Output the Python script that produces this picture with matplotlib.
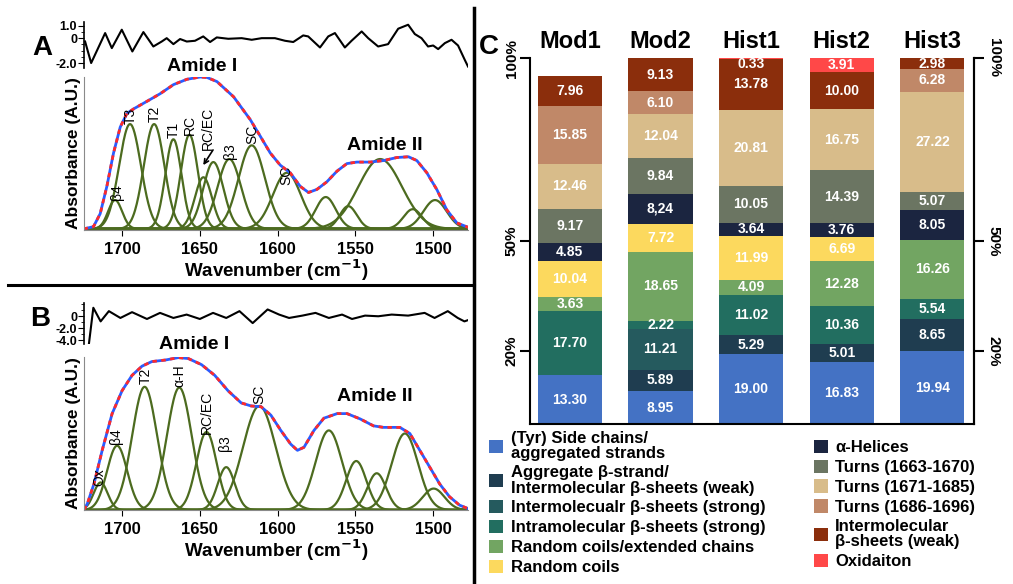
import numpy as np
import matplotlib
matplotlib.use('Agg')
import matplotlib.pyplot as plt
from matplotlib.patches import Patch
from matplotlib.lines import Line2D
from matplotlib.ticker import MultipleLocator

plt.rcParams['font.family'] = ['Liberation Sans', 'DejaVu Sans']
plt.rcParams['axes.unicode_minus'] = False

# ---------------- A: amide I/II band fit ----------------
a_env_wn = [1724.8, 1718.4, 1714.1, 1709.8, 1705.5, 1701.2, 1696.9, 1692.6, 1684.0, 1675.5,
            1666.9, 1658.3, 1649.7, 1645.4, 1639.0, 1628.3, 1617.6, 1611.1, 1604.7, 1598.3,
            1591.9, 1585.4, 1580.1, 1574.7, 1568.3, 1561.8, 1555.4, 1549.0, 1540.4, 1531.8,
            1523.3, 1515.8, 1510.4, 1504.0, 1497.6, 1491.1, 1484.7, 1477.2]
a_env = [0.0, 0.015, 0.10, 0.28, 0.50, 0.67, 0.76, 0.79, 0.84, 0.89,
         0.95, 0.985, 1.0, 0.997, 0.97, 0.87, 0.72, 0.61, 0.50, 0.42,
         0.37, 0.28, 0.24, 0.26, 0.31, 0.38, 0.43, 0.44, 0.44, 0.45,
         0.47, 0.475, 0.45, 0.37, 0.26, 0.125, 0.04, 0.01]
a_centers = [1704.5, 1694.9, 1679.4, 1667.0, 1656.7, 1647.7, 1641.3, 1631.0, 1616.6, 1594.0,
             1569.0, 1554.5, 1534.0, 1513.0, 1498.7]
a_heights = [0.19, 0.69, 0.69, 0.59, 0.62, 0.34, 0.44, 0.46, 0.55, 0.37,
             0.21, 0.15, 0.46, 0.13, 0.19]
a_sigmas = [4.5, 7.0, 6.6, 5.2, 5.5, 5.5, 6.5, 7.5, 8.5, 9.0,
            6.5, 5.5, 14.0, 6.0, 7.5]
a_res_wn = [1723.8, 1719.9, 1710.9, 1706.6, 1700.2, 1693.4, 1686.3, 1679.9, 1674.5, 1671.3,
            1667.0, 1662.7, 1658.4, 1653.1, 1647.8, 1643.4, 1639.1, 1631.7, 1623.1, 1616.6,
            1610.2, 1601.7, 1595.2, 1589.9, 1583.5, 1580.3, 1572.7, 1567.4, 1563.1, 1556.7,
            1552.4, 1545.9, 1541.7, 1535.3, 1528.9, 1522.4, 1516.0, 1511.7, 1507.4, 1503.2,
            1499.9, 1496.7, 1492.4, 1488.1, 1483.9, 1479.6, 1477.5]
a_res = [-0.27, -2.0, 0.41, -0.80, 0.68, -1.07, 0.49, -0.67, -0.27, 0.0,
         -0.48, -0.07, -0.27, -0.21, 0.14, -0.31, 0.06, -0.05, 0.0, -0.13,
         0.0, 0.0, -0.21, -0.31, 0.22, 0.14, -0.75, 0.14, 0.41, -0.75,
         -0.21, 0.54, 0.0, -0.67, -0.48, 0.76, 1.08, 0.33, 0.0, -0.67,
         -0.59, -0.88, -0.40, -0.13, -0.59, -1.74, -2.28]

# ---------------- B ----------------
b_env_wn = [1724.5, 1722.3, 1718.1, 1712.8, 1706.4, 1700.0, 1693.6, 1687.2, 1680.9, 1672.3,
            1663.8, 1657.4, 1648.9, 1640.4, 1631.9, 1623.4, 1617.0, 1610.6, 1604.3, 1597.9,
            1591.5, 1587.2, 1583.0, 1576.6, 1570.2, 1561.7, 1555.3, 1546.8, 1538.3, 1531.9,
            1521.3, 1514.9, 1508.5, 1502.1, 1495.7, 1489.4, 1483.0, 1477.7]
b_env = [0.0, 0.043, 0.17, 0.39, 0.63, 0.78, 0.88, 0.94, 0.97, 0.98,
         0.996, 0.99, 0.95, 0.88, 0.78, 0.70, 0.68, 0.675, 0.62, 0.52,
         0.43, 0.39, 0.41, 0.52, 0.60, 0.63, 0.63, 0.595, 0.55, 0.54,
         0.54, 0.50, 0.39, 0.28, 0.17, 0.087, 0.032, 0.01]
b_centers = [1713.8, 1703.2, 1685.5, 1663.2, 1645.7, 1633.0, 1611.7, 1567.0, 1549.4, 1536.2,
             1518.1, 1499.6]
b_heights = [0.18, 0.42, 0.805, 0.80, 0.51, 0.28, 0.68, 0.52, 0.32, 0.24, 0.50, 0.14]
b_sigmas = [4.5, 6.5, 8.0, 8.0, 6.5, 5.5, 10.5, 8.5, 6.5, 6.0, 8.5, 7.0]
b_res_wn = [1721.3, 1718.5, 1713.8, 1708.5, 1701.1, 1693.6, 1684.0, 1675.6, 1667.0, 1658.5,
            1650.0, 1641.5, 1633.0, 1624.5, 1616.0, 1606.4, 1599.0, 1592.6, 1584.0, 1575.6,
            1567.0, 1558.5, 1552.1, 1543.7, 1535.2, 1526.6, 1516.0, 1505.4, 1499.0, 1490.5,
            1484.1, 1479.8, 1476.6]
b_res = [-4.5, 1.41, -0.85, 0.85, -0.28, 0.68, -0.45, 0.56, -0.28, 0.28,
         -0.45, 0.56, -0.28, 0.85, -1.13, 1.13, 0.28, -0.28, 0.11, 0.56,
         -0.28, 0.28, -0.45, 0.11, 0.0, 0.28, 0.11, 0.56, -0.28, 0.85,
         -0.28, -0.85, -0.56]

# ---------------- C: secondary structure content (%) ----------------
samples = ['Mod1', 'Mod2', 'Hist1', 'Hist2', 'Hist3']
side_chains = [13.30, 8.95, 19.00, 16.83, 19.94]
aggregate = [0, 5.89, 5.29, 5.01, 8.65]
inter_strong = [0, 11.21, 0, 0, 0]
intra_strong = [17.70, 2.22, 11.02, 10.36, 5.54]
coil_extended = [3.63, 18.65, 4.09, 12.28, 16.26]
random_coils = [10.04, 7.72, 11.99, 6.69, 0]
helices = [4.85, 8.24, 3.64, 3.76, 8.05]
turns_1663 = [9.17, 9.84, 10.05, 14.39, 5.07]
turns_1671 = [12.46, 12.04, 20.81, 16.75, 27.22]
turns_1686 = [15.85, 6.10, 0, 0, 6.28]
inter_weak = [7.96, 9.13, 13.78, 10.00, 2.98]
oxidation = [0, 0, 0.33, 3.91, 0]

structures = [
    ("(Tyr) Side chains/\naggregated strands", side_chains, '#4472c4'),
    ("Aggregate β-strand/\nIntermolecular β-sheets (weak)", aggregate, '#1f3d50'),
    ("Intermolecualr β-sheets (strong)", inter_strong, '#255a5e'),
    ("Intramolecular β-sheets (strong)", intra_strong, '#226e60'),
    ("Random coils/extended chains", coil_extended, '#72a562'),
    ("Random coils", random_coils, '#fcd95e'),
    ("α-Helices", helices, '#1b2540'),
    ("Turns (1663-1670)", turns_1663, '#6b7562'),
    ("Turns (1671-1685)", turns_1671, '#d8bc8a'),
    ("Turns (1686-1696)", turns_1686, '#c08868'),
    ("Intermolecular\nβ-sheets (weak)", inter_weak, '#8b2e0c'),
    ("Oxidaiton", oxidation, '#ff4848'),
]
comma_label = ("Mod2", "α-Helices")  # written with a decimal comma

GREEN = '#4c6b1f'
W, H = 1013, 584
fig = plt.figure(figsize=(W / 100, H / 100), dpi=100)


def box(left, top, right, bottom):
    return [left / W, 1 - bottom / H, (right - left) / W, (bottom - top) / H]


def draw_spectrum(ax, env_wn, env, centers, heights, sigmas, tags, ylim):
    grid = np.linspace(1724.5, 1477.5, 700)
    for c, h, s in zip(centers, heights, sigmas):
        ax.plot(grid, h * np.exp(-0.5 * ((grid - c) / s) ** 2), color=GREEN, lw=1.6)
    ax.plot(env_wn, env, color='#2a5cff', lw=2.0)
    ax.plot(env_wn, env, color='#ff2a2a', lw=2.0, ls=(0, (1.6, 1.6)))
    for txt, x, y in tags:
        ax.text(x, y, txt, rotation=90, ha='center', va='center', fontsize=10)
    ax.set_xlim(1724.5, 1477.5)
    ax.set_ylim(*ylim)
    ax.set_xticks([1700, 1650, 1600, 1550, 1500])
    ax.set_yticks([])
    for sp in ['top', 'right']:
        ax.spines[sp].set_visible(False)
    ax.spines['left'].set_color('#8a8a8a')
    ax.spines['bottom'].set_color('#8a8a8a')
    ax.tick_params(axis='x', direction='out', length=4, labelsize=12, pad=5)
    for t in ax.get_xticklabels():
        t.set_fontweight('bold')
    ax.set_xlabel('Wavenumber (cm$^{\\mathbf{-1}}$)', fontsize=13.5, fontweight='bold', labelpad=0)
    ax.set_ylabel('Absorbance (A.U.)', fontsize=12.5, fontweight='bold', labelpad=2)


def draw_residual(ax, wn, res, ylim, major, labels):
    ax.plot(wn, res, color='black', lw=1.5)
    ax.set_xlim(1724.5, 1477.5)
    ax.set_ylim(*ylim)
    for sp in ['top', 'right', 'bottom']:
        ax.spines[sp].set_visible(False)
    ax.spines['left'].set_linewidth(1.2)
    ax.set_xticks([])
    ax.set_yticks(major)
    ax.set_yticklabels(labels, fontsize=9, fontweight='bold')
    ax.yaxis.set_minor_locator(MultipleLocator(1.0 if ylim[0] < -3 else 0.5))
    ax.tick_params(axis='y', which='major', length=4, pad=1)
    ax.tick_params(axis='y', which='minor', length=2.5)


# panel A
ax_ar = fig.add_axes(box(84, 22, 468, 68))
draw_residual(ax_ar, a_res_wn, a_res, (-2.4, 1.3), [1.0, 0, -2.0], ['1.0', '0', '-2.0'])
ax_a = fig.add_axes(box(84, 77, 468, 230))
a_tags = [("β4", 1703.0, 0.24), ("T3", 1694.4, 0.745), ("T2", 1678.8, 0.755),
          ("T1", 1667.0, 0.65), ("RC", 1656.3, 0.685), ("RC/EC", 1644.5, 0.66),
          ("β3", 1630.6, 0.515), ("SC", 1616.3, 0.625), ("SC", 1594.2, 0.355)]
draw_spectrum(ax_a, a_env_wn, a_env, a_centers, a_heights, a_sigmas, a_tags, (-0.007, 1.0))
ax_a.annotate('', xy=(1647.8, 0.42), xytext=(1641.5, 0.52),
              arrowprops=dict(arrowstyle='->', lw=1.2, color='black', shrinkA=0, shrinkB=0,
                              mutation_scale=8))
ax_a.text(1648.6, 1.066, 'Amide I', ha='center', va='center', fontsize=14, fontweight='bold')
ax_a.text(1531, 0.55, 'Amide II', ha='center', va='center', fontsize=14, fontweight='bold')

# panel B
ax_br = fig.add_axes(box(84, 303, 468, 344))
draw_residual(ax_br, b_res_wn, b_res, (-4.6, 2.2), [0, -2.0, -4.0], ['0', '-2.0', '-4.0'])
ax_b = fig.add_axes(box(84, 357, 468, 510))
b_tags = [("Ox", 1714.5, 0.216), ("β4", 1703.8, 0.48), ("T2", 1685.1, 0.88),
          ("α-H", 1663.2, 0.88), ("RC/EC", 1645.3, 0.635), ("β3", 1633.6, 0.435),
          ("SC", 1611.7, 0.755)]
draw_spectrum(ax_b, b_env_wn, b_env, b_centers, b_heights, b_sigmas, b_tags, (0, 1.0))
ax_b.text(1653.4, 1.08, 'Amide I', ha='center', va='center', fontsize=14, fontweight='bold')
ax_b.text(1537.3, 0.74, 'Amide II', ha='center', va='center', fontsize=14, fontweight='bold')

# panel C: stacked bars
ax_c = fig.add_axes(box(530, 58, 974, 424))
x = np.arange(len(samples))
bottom = np.zeros(len(samples))
handles = []
for name, vals, col in structures:
    vals = np.array(vals, dtype=float)
    ax_c.bar(x, vals, bottom=bottom, width=0.71, color=col, linewidth=0)
    for i, v in enumerate(vals):
        if v > 0:
            lab = f"{v:.2f}"
            if (samples[i], name) == comma_label:
                lab = lab.replace('.', ',')
            # keep labels of very thin top slices inside the plot
            ymid = min(bottom[i] + v / 2, 98.4)
            ax_c.text(x[i], ymid, lab, ha='center', va='center',
                      color='white', fontsize=10, fontweight='bold')
    bottom += vals
    handles.append(Patch(facecolor=col, edgecolor='none', label=name))

ax_c.set_xlim(-0.44, 4.46)
ax_c.set_ylim(0, 100)
ax_c.set_xticks([])
for i, s in enumerate(samples):
    ax_c.text(x[i], 104.4, s, ha='center', va='center', fontsize=17, fontweight='bold')
ax_c.spines['top'].set_visible(False)
for sp in ['left', 'right', 'bottom']:
    ax_c.spines[sp].set_linewidth(1.5)
ticks = [20, 50, 100]
ax_c.set_yticks(ticks)
ax_c.set_yticklabels(['20%', '50%', '100%'], rotation=90, va='center',
                     fontsize=11, fontweight='bold')
ax_c.tick_params(axis='y', length=7, width=1.5, pad=1)
ax_c2 = ax_c.twinx()
ax_c2.set_ylim(0, 100)
ax_c2.set_yticks(ticks)
ax_c2.set_yticklabels(['20%', '50%', '100%'], rotation=270, va='center',
                      fontsize=11, fontweight='bold')
ax_c2.tick_params(axis='y', length=7, width=1.5, pad=2)
for sp in ['top', 'left', 'bottom']:
    ax_c2.spines[sp].set_visible(False)
ax_c2.spines['right'].set_linewidth(1.5)

leg = fig.legend(handles=handles, ncol=2, loc='upper left', bbox_to_anchor=(489 / W, 1 - 431 / H),
                 frameon=False, prop={'size': 12, 'weight': 'bold'}, handlelength=0.85,
                 handleheight=0.85, handletextpad=0.45, labelspacing=0.27, columnspacing=2.9,
                 borderpad=0, borderaxespad=0)
for t in leg.get_texts():
    t.set_linespacing(1.0)

# panel letters and separators
fig.text(42 / W, 1 - 48 / H, 'A', ha='center', va='center', fontsize=20, fontweight='bold')
fig.text(40 / W, 1 - 319 / H, 'B', ha='center', va='center', fontsize=20, fontweight='bold')
fig.text(489 / W, 1 - 47 / H, 'C', ha='center', va='center', fontsize=20, fontweight='bold')
fig.add_artist(Line2D([8 / W, 474 / W], [1 - 285 / H, 1 - 285 / H], color='black', lw=2.2))
fig.add_artist(Line2D([474 / W, 474 / W], [1 - 8 / H, 0], color='black', lw=2.5))

fig.savefig('out.png', dpi=100)
